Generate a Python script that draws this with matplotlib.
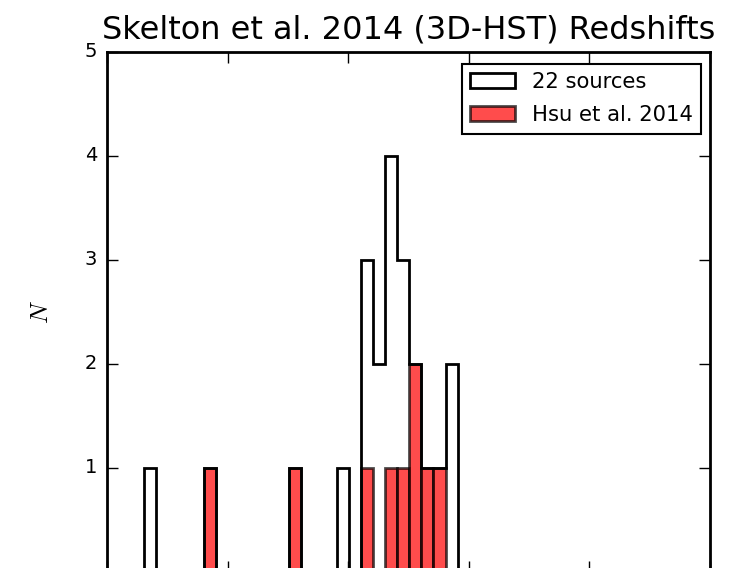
import numpy as np
import matplotlib
matplotlib.use("Agg")
import matplotlib.pyplot as plt

plt.style.use("classic")

# bin edges (redshift) and counts
z_lo = 0.307
bin_width = 0.1
n_bins = 26
all_counts = [1, 0, 0, 0, 0, 1, 0, 0, 0, 0, 0, 0, 1, 0, 0, 0, 1, 0,
              3, 2, 4, 3, 2, 1, 1, 2]
hsu_counts = [0, 0, 0, 0, 0, 1, 0, 0, 0, 0, 0, 0, 1, 0, 0, 0, 0, 0,
              1, 0, 1, 1, 2, 1, 1, 0]

edges = z_lo + bin_width * np.arange(n_bins + 1)
centers = edges[:-1] + bin_width / 2

fig = plt.figure(figsize=(7.39, 5.68), dpi=100, facecolor="white")
ax = fig.add_axes([0.1448, -0.007, 0.816, 0.9155])

ax.hist(centers, bins=edges, weights=all_counts, histtype="step",
        color="black", linewidth=2, label="22 sources")
ax.hist(centers, bins=edges, weights=hsu_counts, histtype="bar",
        color="red", alpha=0.7, edgecolor="black", linewidth=2,
        label="Hsu et al. 2014")

ax.set_xlim(0, 5)
ax.set_ylim(0, 5)
ax.set_yticks([1, 2, 3, 4, 5])
ax.tick_params(labelsize=14, direction="in", length=8, width=1, pad=7)
ax.tick_params(axis="x", labelbottom=False)
for s in ax.spines.values():
    s.set_linewidth(2)

ax.set_ylabel("$N$", fontsize=18)
ax.yaxis.set_label_coords(-0.09, 0.5)
ax.set_title("Skelton et al. 2014 (3D-HST) Redshifts", fontsize=23, y=1.012)

leg = ax.legend(loc="upper right", fontsize=15.2, fancybox=False,
                framealpha=1, borderaxespad=0.55, handlelength=2.1,
                labelspacing=0.62, bbox_to_anchor=(1.004, 1.0))
leg.get_frame().set_edgecolor("black")
leg.get_frame().set_linewidth(1.5)

fig.savefig("out.png", dpi=100, facecolor="white")
